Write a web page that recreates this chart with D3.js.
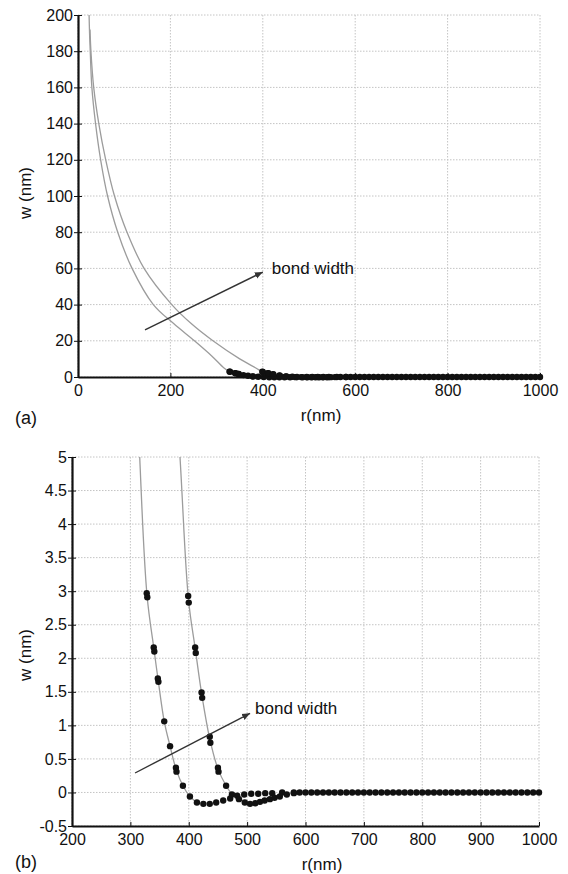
<!DOCTYPE html>
<html>
<head>
<meta charset="utf-8">
<script src="https://cdn.jsdelivr.net/npm/d3@7"></script>
<style>
  html, body { margin: 0; padding: 0; background: #fff; }
  svg { display: block; }
  text { font-family: "Liberation Sans", Arial, Helvetica, sans-serif; fill: #111; }
</style>
</head>
<body>
<svg id="chart" width="568" height="874"></svg>
<script>
// ---------------- data ----------------
// theory curves (gray lines): r in nm, w in nm
const innerLineR = [24, 25, 26.5, 30, 38, 49, 64, 86, 117, 163, 207, 252, 290, 316, 328.5, 340.5, 347.5, 358, 368, 378.5, 390, 402, 414];
const innerLineW = [200, 190, 180, 160, 140, 120, 100, 80, 60, 40, 29.5, 20, 11.5, 5, 2.94, 2.13, 1.68, 1.06, 0.69, 0.34, 0.10, -0.06, -0.15];
const outerLineR = [26, 28, 34, 45, 60, 79, 106, 143, 203, 245, 292, 350, 385, 399.5, 411.5, 422.5, 436.5, 450.5, 464, 474];
const outerLineW = [192, 180, 160, 140, 120, 100, 80, 60, 40, 29.5, 20, 10, 5, 2.88, 2.12, 1.45, 0.78, 0.34, 0.10, -0.03];

// simulated points (black dots)
const innerDotR = [328, 329, 340, 341, 347, 348, 358, 368, 378, 379, 390, 402, 414, 425, 436, 447, 459, 471, 483, 495, 507, 519, 531, 543,
  560, 580, 600, 620, 640, 660, 680, 700, 720, 740, 760, 780, 800, 820, 840, 860, 880, 900, 920, 940, 960, 980, 1000];
const innerDotW = [2.97, 2.91, 2.16, 2.10, 1.70, 1.65, 1.06, 0.69, 0.37, 0.31, 0.10, -0.06, -0.15, -0.17, -0.17, -0.15, -0.12, -0.09, -0.05, -0.03, -0.02, -0.02, -0.01, -0.01,
  0, 0, 0, 0, 0, 0, 0, 0, 0, 0, 0, 0, 0, 0, 0, 0, 0, 0, 0, 0, 0, 0, 0];
const outerDotR = [399, 400, 411, 412, 422, 423, 436, 437, 450, 451, 464, 474, 486, 496, 505, 514, 522, 530, 539, 547, 556, 568, 580,
  590, 610, 630, 650, 670, 690, 710, 730, 750, 770, 790, 810, 830, 850, 870, 890, 910, 930, 950, 970, 990];
const outerDotW = [2.93, 2.83, 2.16, 2.08, 1.49, 1.41, 0.83, 0.74, 0.37, 0.31, 0.10, -0.03, -0.10, -0.15, -0.17, -0.16, -0.14, -0.12, -0.10, -0.08, -0.06, -0.03, -0.01,
  0, 0, 0, 0, 0, 0, 0, 0, 0, 0, 0, 0, 0, 0, 0, 0, 0, 0, 0, 0, 0, 0];

// axes ticks
const topXTicks = [0, 200, 400, 600, 800, 1000];
const topYTicks = [0, 20, 40, 60, 80, 100, 120, 140, 160, 180, 200];
const bottomXTicks = [200, 300, 400, 500, 600, 700, 800, 900, 1000];
const bottomYTicks = [-0.5, 0, 0.5, 1, 1.5, 2, 2.5, 3, 3.5, 4, 4.5, 5];
const bottomYTickLabels = ["-0.5", "0", "0.5", "1", "1.5", "2", "2.5", "3", "3.5", "4", "4.5", "5"];

// annotation arrows (data coordinates)
const topArrowR = [145, 400];
const topArrowW = [26, 58];
const bottomArrowR = [308, 505];
const bottomArrowW = [0.29, 1.18];
const arrowLabel = "bond width";
const xLabel = "r(nm)";
const yLabel = "w (nm)";

// ---------------- drawing ----------------
const svg = d3.select("#chart");
const defs = svg.append("defs");
defs.append("marker")
  .attr("id", "ah").attr("viewBox", "0 0 10 10")
  .attr("refX", 10).attr("refY", 5)
  .attr("markerWidth", 8).attr("markerHeight", 8)
  .attr("markerUnits", "userSpaceOnUse")
  .attr("orient", "auto")
  .append("path").attr("d", "M0,0.8 L10,5 L0,9.2 Z").attr("fill", "#333");

function zip(a, b) { return a.map((v, i) => [v, b[i]]); }

function drawPanel(cfg) {
  const x = d3.scaleLinear().domain(cfg.xDomain).range([cfg.left, cfg.right]);
  const y = d3.scaleLinear().domain(cfg.yDomain).range([cfg.bottom, cfg.top]);
  const g = svg.append("g");
  const clipId = "clip" + cfg.id;
  defs.append("clipPath").attr("id", clipId)
    .append("rect").attr("x", cfg.left).attr("y", cfg.top)
    .attr("width", cfg.right - cfg.left).attr("height", cfg.bottom - cfg.top + 4);

  // grid
  const grid = g.append("g").attr("stroke", "#c4c4c4").attr("stroke-width", 1).attr("stroke-dasharray", "1.5,1.5");
  cfg.xTicks.forEach(t => grid.append("line")
    .attr("x1", x(t)).attr("x2", x(t)).attr("y1", cfg.top).attr("y2", cfg.bottom));
  cfg.yTicks.forEach(t => grid.append("line")
    .attr("x1", cfg.left).attr("x2", cfg.right).attr("y1", y(t)).attr("y2", y(t)));

  // theory lines
  const line = d3.line().x(d => x(d[0])).y(d => y(d[1])).curve(d3.curveCatmullRom.alpha(0.5));
  const plot = g.append("g").attr("clip-path", `url(#${clipId})`);
  [zip(innerLineR, innerLineW), zip(outerLineR, outerLineW)].forEach(pts => {
    plot.append("path").attr("d", line(pts))
      .attr("fill", "none").attr("stroke", "#9c9c9c").attr("stroke-width", 1.3);
  });

  // dots
  const dots = g.append("g").attr("fill", "#111");
  [zip(innerDotR, innerDotW), zip(outerDotR, outerDotW)].forEach(pts => {
    dots.selectAll(null).data(pts).enter().append("circle")
      .attr("cx", d => x(d[0])).attr("cy", d => y(d[1])).attr("r", 3.2);
  });

  // axes
  const xAxis = d3.axisBottom(x).tickValues(cfg.xTicks).tickSizeInner(-4).tickSizeOuter(0).tickPadding(8)
    .tickFormat(d3.format("d"));
  const gx = g.append("g").attr("transform", `translate(0,${cfg.bottom})`).call(xAxis);
  const yAxis = d3.axisLeft(y).tickValues(cfg.yTicks).tickSizeInner(4).tickSizeOuter(0).tickPadding(1)
    .tickFormat((d, i) => cfg.yLabels[i]);
  const gy = g.append("g").attr("transform", `translate(${cfg.left},0)`).call(yAxis);
  gy.selectAll(".tick line").attr("x1", 4);
  [gx, gy].forEach(a => {
    a.select(".domain").attr("stroke", "#111").attr("stroke-width", 2.2);
    a.selectAll(".tick line").attr("stroke", "#111").attr("stroke-width", 1);
    a.selectAll(".tick text").attr("font-size", 16).attr("fill", "#111")
      .attr("font-family", "Liberation Sans, Arial, sans-serif");
  });

  // arrow
  const ap = zip(cfg.arrowR, cfg.arrowW);
  g.append("line")
    .attr("x1", x(ap[0][0])).attr("y1", y(ap[0][1]))
    .attr("x2", x(ap[1][0])).attr("y2", y(ap[1][1]))
    .attr("stroke", "#333").attr("stroke-width", 1.4).attr("marker-end", "url(#ah)");
  g.append("text").attr("x", x(ap[1][0]) + cfg.labelDx).attr("y", y(ap[1][1]) + cfg.labelDy)
    .attr("font-size", 17).text(arrowLabel);

  // axis titles
  g.append("text").attr("x", cfg.xTitleX).attr("y", cfg.bottom + 44)
    .attr("text-anchor", "middle").attr("font-size", 17).text(xLabel);
  g.append("text")
    .attr("transform", `translate(${cfg.yTitleX},${cfg.yTitleY}) rotate(-90)`)
    .attr("text-anchor", "middle").attr("font-size", 17).text(yLabel);
  g.append("text").attr("x", 15).attr("y", cfg.panelY).attr("font-size", 18).text(cfg.panel);
}

drawPanel({
  id: "a", left: 78, right: 540, top: 15, bottom: 377,
  xDomain: [0, 1000], yDomain: [0, 200],
  xTicks: topXTicks, yTicks: topYTicks, yLabels: topYTicks.map(String),
  arrowR: topArrowR, arrowW: topArrowW, labelDx: 9, labelDy: 2,
  xTitleX: 321, yTitleX: 31, yTitleY: 193, panel: "(a)", panelY: 424
});

drawPanel({
  id: "b", left: 72, right: 539, top: 457, bottom: 826,
  xDomain: [200, 1000], yDomain: [-0.5, 5],
  xTicks: bottomXTicks, yTicks: bottomYTicks, yLabels: bottomYTickLabels,
  arrowR: bottomArrowR, arrowW: bottomArrowW, labelDx: 5, labelDy: 1,
  xTitleX: 322, yTitleX: 31, yTitleY: 655, panel: "(b)", panelY: 868
});
</script>
</body>
</html>
